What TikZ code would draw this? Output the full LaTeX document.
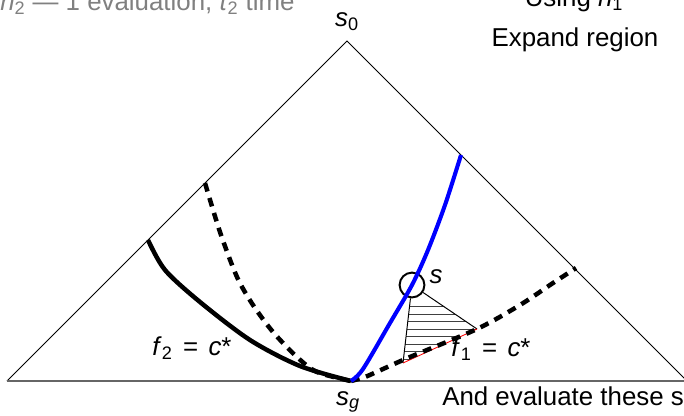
\documentclass[tikz,border=0pt]{standalone}
\usepackage{fontspec}
\setmainfont{Liberation Sans}
\begin{document}
\begin{tikzpicture}[x=0.025cm, y=-0.025cm,
    font=\fontsize{18.4}{22}\selectfont,
    edge/.style={line width=0.7pt},
    level/.style={line width=3.2pt},
    levelgap/.style={line width=3.2pt, dash pattern=on 0.22cm off 0.17cm},
    bluepath/.style={blue, line width=2.9pt},
    hatchline/.style={black!75, line width=0.5pt},
    note/.style={inner sep=0pt, anchor=base}]
    \useasboundingbox (0,0) rectangle (684,415);
    \clip (0,0) rectangle (684,415);

    % Search space
    \coordinate (s0) at (347,41);
    \coordinate (sl) at (7,381);
    \coordinate (sr) at (687,381);
    \coordinate (sg) at (351,381);
    \draw[edge] (sl) -- (s0) -- (sr);
    \draw[black!60, line width=1.2pt] (sl) -- (sr);

    % Expanded state and evaluated region
    \node[circle, draw, line width=1.4pt, minimum size=0.62cm, inner sep=0pt] (s) at (412,285) {};
    \coordinate (ta) at (477,329);
    \coordinate (tb) at (403,363);
    \begin{scope}
        \clip (s.center) -- (ta) -- (tb) -- cycle;
        \foreach \y in {306.7,314.2,...,362} \draw[hatchline] (395,\y) -- (480,\y);
    \end{scope}
    \draw[edge] (s) -- (ta);
    \draw[edge] (s) -- (tb);
    \draw[red, line width=0.6pt] (tb) -- (ta);

    % Contours
    \draw[level] plot[smooth] coordinates {(148,240) (165,270) (200,302) (250,340) (300,366) (351,381)};
    \draw[levelgap] plot[smooth] coordinates {(205,183) (220,232) (237,277) (253,305) (273,332) (297,357) (317,372) (351,381)};
    \draw[levelgap] plot[smooth] coordinates {(351,381) (365,377) (383,369) (410,357) (477,329) (520,305) (553,283) (576,268)};
    \draw[bluepath] plot[smooth] coordinates {(351,381) (363,369) (390,323) (412,285) (428,250) (445,205) (461,155)};

    % Labels
    \node[note] (s0lbl) at (347,26) {\textit{s}\textsubscript{0}};
    \node[note] (sglbl) at (348,405) {\textit{s}\textsubscript{\textit{g}}};
    \node[note] (slbl) at (436,283) {\textit{s}};
    \node[note] (f2lbl) at (192,355) {\textit{f}\textsubscript{2}\hspace{0.4em}=\hspace{0.4em}\textit{c}*};
    \node[note] (f1lbl) at (491,356) {\textit{f}\textsubscript{1}\hspace{0.4em}=\hspace{0.4em}\textit{c}*};

    % Notes
    \node[note, anchor=base west, black!50] (note2) at (0,10) {\textit{h}\textsubscript{2} --- 1 evaluation, \textit{t}\textsubscript{2} time};
    \node[note] (note1) at (574,6) {Using \textit{h}\textsubscript{1}};
    \node[note] (expand) at (575,46.7) {Expand region};
    \node[note, anchor=base west] (evaluate) at (442,405) {And evaluate these s};
\end{tikzpicture}
\end{document}
